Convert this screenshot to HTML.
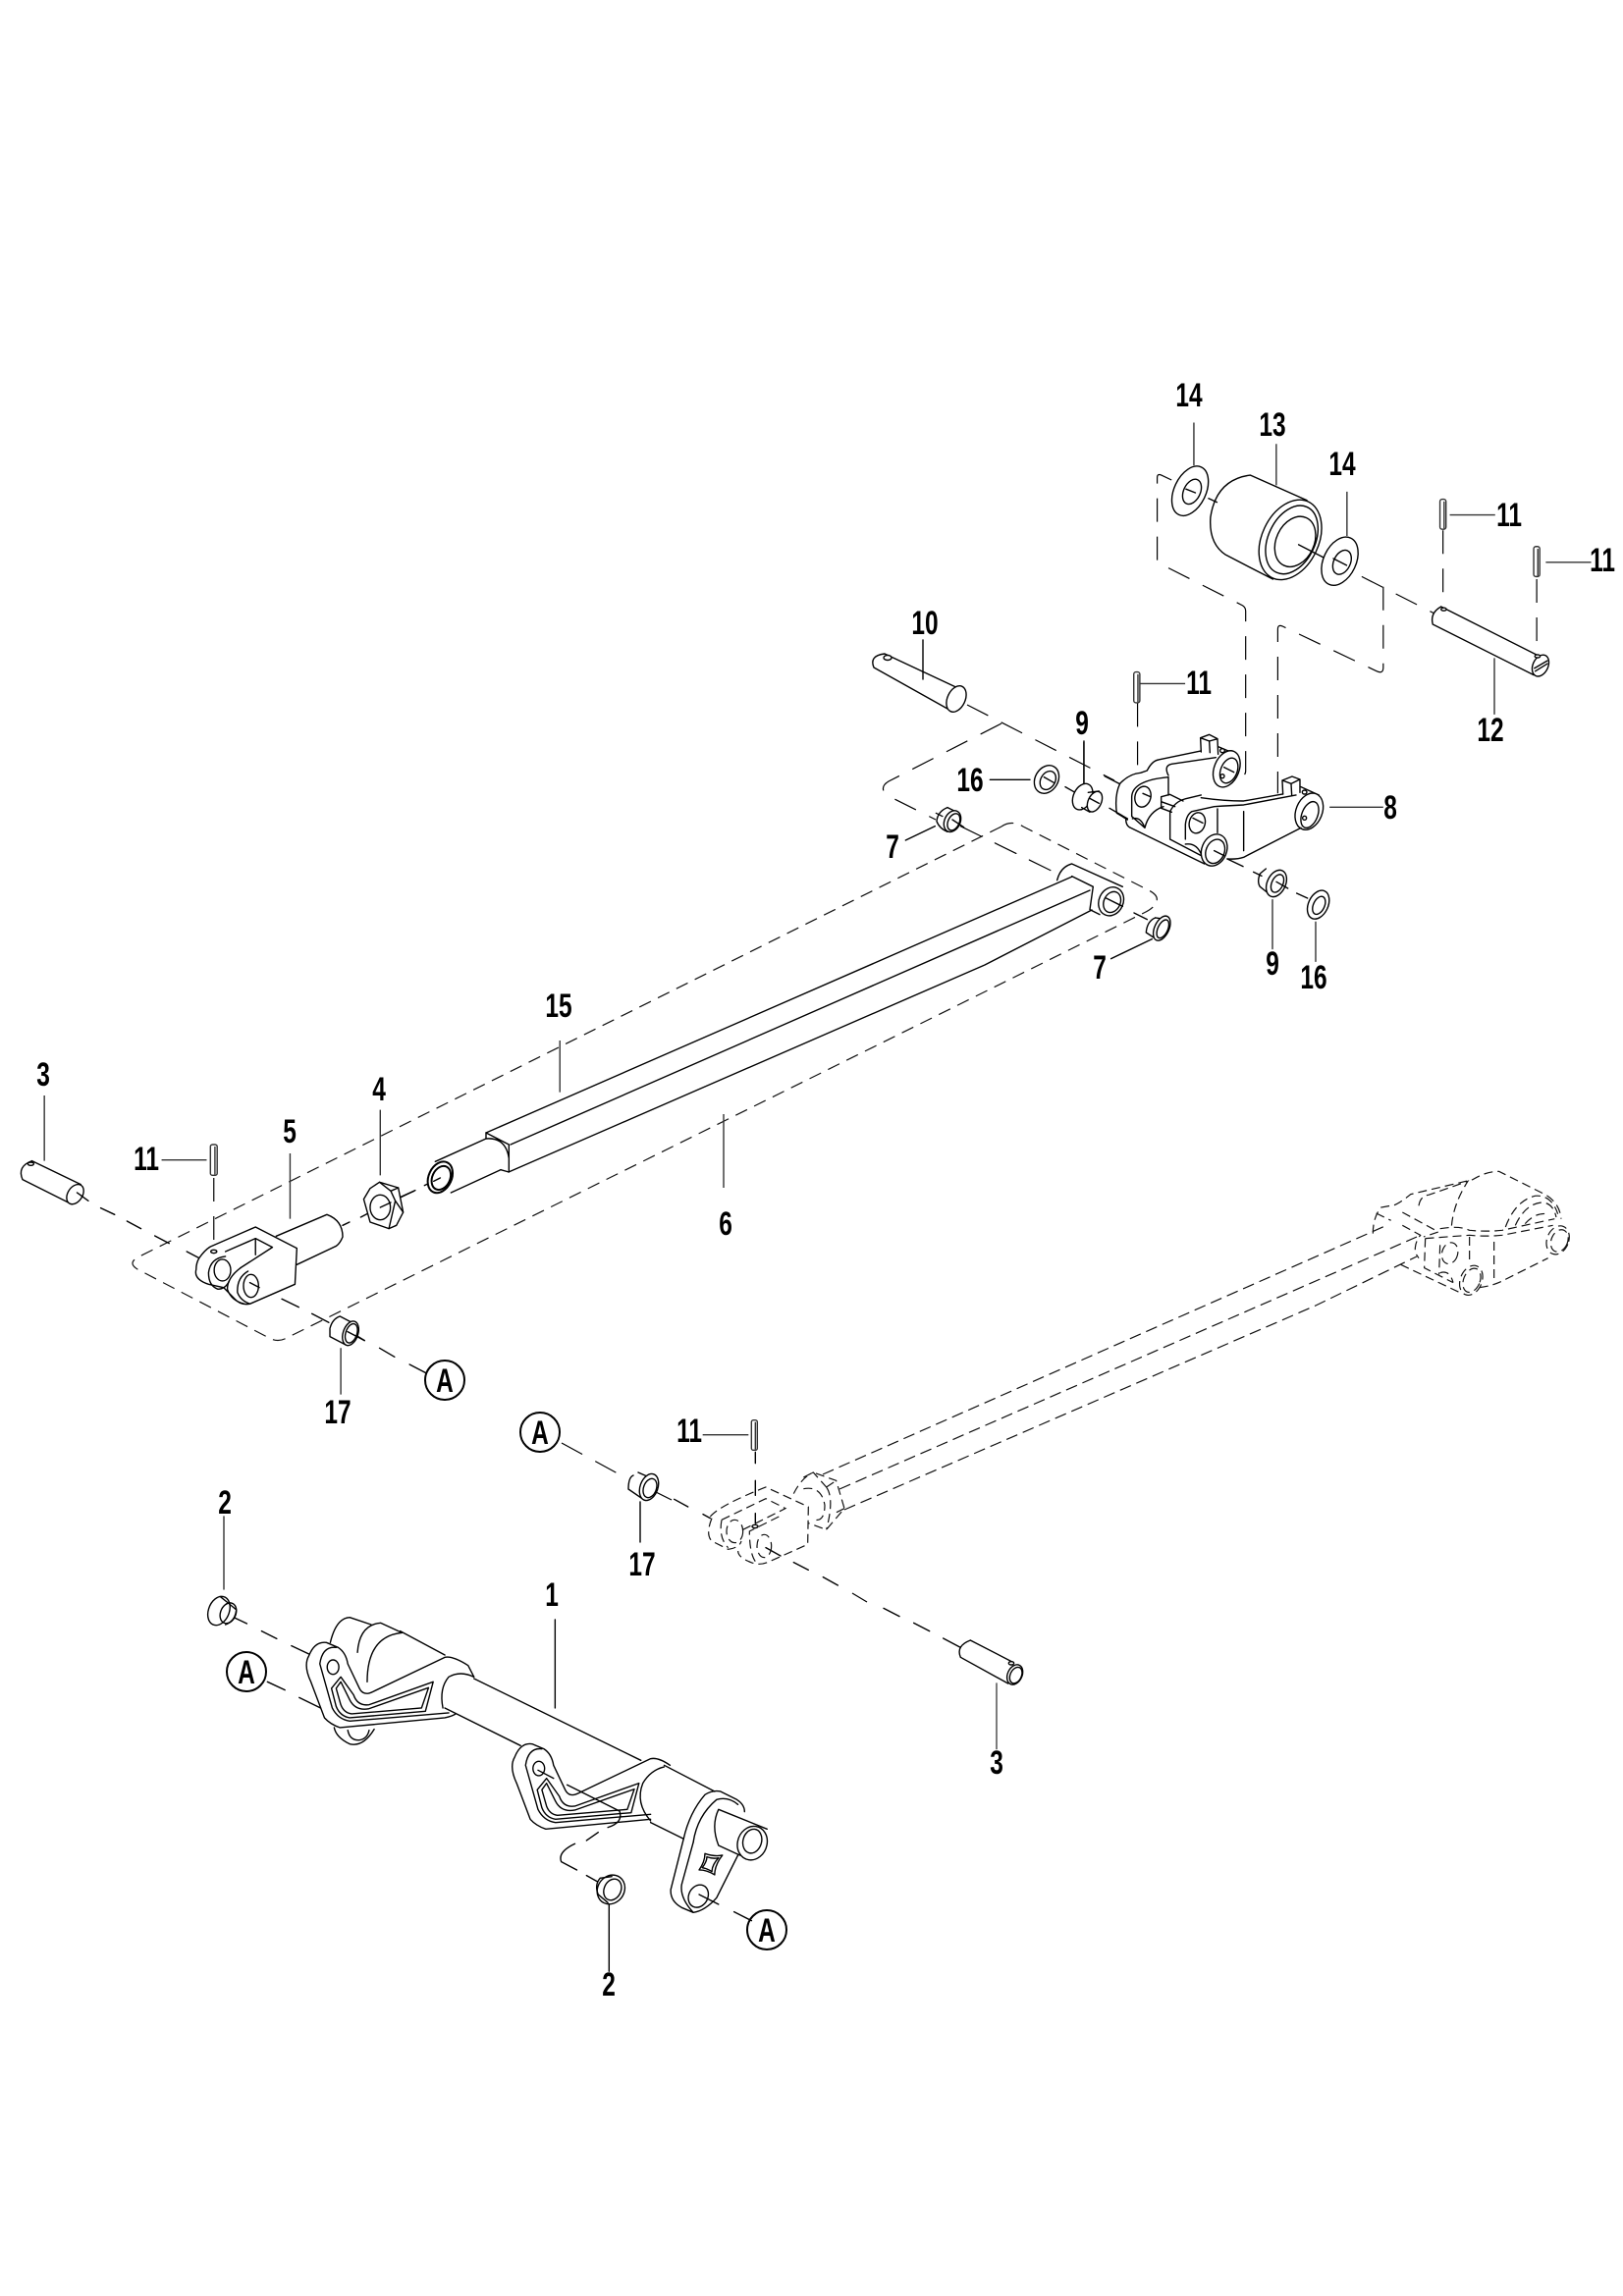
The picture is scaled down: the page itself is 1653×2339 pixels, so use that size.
<!DOCTYPE html>
<html><head><meta charset="utf-8"><style>
html,body{margin:0;padding:0;background:#fff}
svg{display:block}
svg *{vector-effect:non-scaling-stroke}
.l{fill:none;stroke:#000;stroke-width:1.4;stroke-linejoin:round;stroke-linecap:round}
.w ellipse,.f{fill:#fff}
.d{fill:none;stroke:#000;stroke-width:1.2;stroke-dasharray:24 15}
.d2{fill:none;stroke:#111;stroke-width:1.2;stroke-dasharray:9 5}
.h{fill:none;stroke:#111;stroke-width:1.2;stroke-dasharray:12 6}
.t{fill:none;stroke:#333;stroke-width:1.4}
text{font-family:"Liberation Sans",sans-serif;font-weight:bold;font-size:34px;fill:#000;text-anchor:middle}
</style></head><body>
<svg width="1653" height="2339" viewBox="0 0 1653 2339" xmlns="http://www.w3.org/2000/svg">
<rect width="1653" height="2339" fill="#fff"/>

<!-- global dashed -->
<g class="h" style="stroke-dasharray:13 8">
<path d="M1020 842Q1030 835 1042 842L1170 907Q1180 912 1178 918Q1176 925 1165 930L292 1363Q283 1368 274 1363L140 1293Q130 1287 140 1281Z"/>
</g>
<g class="d">
<path d="M985 718L1135 795"/>
<path d="M1020 737L905 796Q895 802 903 810L953 835"/>
<path d="M572 1470L640 1507"/>
<path d="M668 1520L684 1528"/>
<path d="M868 1623L883 1632"/>
</g>
<g class="h">
<path d="M838 1502L1413 1248"/>
<path d="M855 1517L1443 1260"/>
<path d="M860 1538L1340 1330L1443 1280"/>
</g>

<!-- long arm -->
<g class="l">
<path d="M495 1154L1092 893"/>
<path d="M520 1166L1110 907"/>
<path d="M518 1194L1003 983L1112 927"/>
</g>

<!-- Z1 roller + bracket dashes, pin 12 -->
<g transform="translate(1050,370) scale(.385,.3827)">
<path class="d" d="M372 311L345 298Q334 293 334 305L334 530L560 645Q568 650 568 660L568 1085Q568 1100 552 1098"/>
<path class="d" d="M875 568L1065 665"/>
<path class="d" d="M932 595L932 810Q932 828 915 820L665 700Q653 695 653 708L653 1145"/>
<path class="d" d="M1090 445L1090 645"/>
<path class="d" d="M1338 575L1338 775"/>
<path class="d" d="M282 905L282 1095"/>
<g class="l w">
<path d="M470 360L492 370M770 515L800 530"/>
<ellipse cx="421" cy="340" rx="42" ry="70" transform="rotate(25 421 340)"/>
<ellipse cx="426" cy="342" rx="22" ry="35" transform="rotate(25 426 342)"/>
<path d="M410 335L435 345"/>
<path d="M640 575L515 510Q470 480 475 410Q490 310 580 298L730 365"/>
<ellipse cx="686" cy="470" rx="75" ry="112" transform="rotate(25 686 470)"/>
<ellipse cx="690" cy="470" rx="62" ry="96" transform="rotate(25 690 470)"/>
<ellipse cx="699" cy="475" rx="50" ry="70" transform="rotate(25 699 475)"/>
<path d="M708 483L770 515"/>
<ellipse cx="817" cy="527" rx="43" ry="68" transform="rotate(25 817 527)"/>
<ellipse cx="823" cy="530" rx="22" ry="34" transform="rotate(25 823 530)"/>
<path d="M800 520L835 538"/>
<!-- pin 12 -->
<path d="M1085 648L1345 780M1063 695L1330 830M1085 648Q1055 665 1063 695"/>
<ellipse cx="1348" cy="805" rx="20" ry="30" transform="rotate(25 1348 805)"/>
<path d="M1332 812L1366 792M1334 820L1366 800"/>
<ellipse cx="1092" cy="655" rx="7" ry="4"/>
<ellipse cx="1340" cy="780" rx="7" ry="4"/>
</g>
<g class="t">
<rect x="1082" y="362" width="16" height="80" rx="6"/><path d="M1093 368V440"/>
<rect x="1330" y="488" width="16" height="80" rx="6"/><path d="M1341 494V566"/>
<rect x="272" y="822" width="16" height="82" rx="6"/><path d="M283 828V902"/>
<path d="M1108 404H1228M1362 530H1482M288 853H408M431 158V272M649 215V325M836 342V460M1226 785V935M790 1182H932M140 1008V1120"/>
</g>
</g>

<!-- Z8 bracket 8 -->
<g transform="translate(1090,730) scale(.3333)" class="l w">
<path d="M105 182L150 205M120 280L175 312"/>
<path d="M152 205Q180 175 215 172L235 165Q250 135 270 132L400 105"/>
<path d="M400 108L398 65L425 55L450 68L452 115M398 65L425 75L450 68M425 75L427 110"/>
<path d="M452 92L495 110"/>
<ellipse cx="465" cy="104" rx="7" ry="6"/>
<path d="M300 180Q285 150 310 145L445 125"/>
<ellipse cx="478" cy="160" rx="38" ry="58" transform="rotate(22 478 160)"/>
<ellipse cx="485" cy="165" rx="25" ry="40" transform="rotate(22 485 165)"/>
<ellipse cx="465" cy="182" rx="6" ry="6"/>
<path d="M152 205Q135 240 142 295L175 315"/>
<path d="M188 305L188 245Q190 195 300 185L300 240"/>
<ellipse cx="222" cy="245" rx="24" ry="32" transform="rotate(15 222 245)"/>
<path d="M190 312Q215 305 228 340Q240 290 285 275M188 305L228 340"/>
<path d="M170 312Q170 335 185 340L410 450"/>
<path d="M278 245L305 238L345 258M278 245L278 280L310 292M278 260L320 275"/>
<path d="M400 248Q470 258 530 258L650 237"/>
<path d="M305 375L305 290Q320 260 350 252L400 240"/>
<path d="M352 375L352 330Q355 300 372 290L440 275Q490 272 530 270L690 240"/>
<path d="M650 237L648 195L678 183L702 192L702 232M648 195L675 205L702 192M675 205L677 240"/>
<path d="M705 215L760 240"/>
<ellipse cx="716" cy="231" rx="7" ry="6"/>
<ellipse cx="730" cy="290" rx="40" ry="58" transform="rotate(22 730 290)"/>
<ellipse cx="732" cy="300" rx="24" ry="42" transform="rotate(22 732 300)"/>
<ellipse cx="716" cy="310" rx="6" ry="6"/>
<path d="M705 340L530 430Q510 437 480 435"/>
<path d="M450 282V355M530 290V410"/>
<ellipse cx="388" cy="325" rx="24" ry="32" transform="rotate(15 388 325)"/>
<path d="M352 390Q385 385 400 420M305 375L400 425"/>
<ellipse cx="440" cy="408" rx="38" ry="50" transform="rotate(22 440 408)"/>
<ellipse cx="443" cy="412" rx="28" ry="38" transform="rotate(22 443 412)"/>
<path d="M440 410L470 425M375 310L405 325M222 235L245 245M470 155L500 170"/>
</g>

<!-- lower bush 9 and washer 16 -->
<g transform="translate(1230,860) scale(.3333)" class="l w">
<path d="M60 45L108 68M140 85L165 97M272 150L305 165"/>
<path d="M178 75L160 90Q150 115 160 130L185 150"/>
<ellipse cx="210" cy="120" rx="28" ry="43" transform="rotate(25 210 120)"/>
<ellipse cx="213" cy="120" rx="17" ry="29" transform="rotate(25 213 120)"/>
<path d="M210 115L245 135"/>
<ellipse cx="338" cy="185" rx="30" ry="46" transform="rotate(25 338 185)"/>
<ellipse cx="340" cy="187" rx="17" ry="29" transform="rotate(25 340 187)"/>
<path d="M198 170V320M330 238V358" style="stroke:#333"/>
</g>

<!-- Z7 -->
<g transform="translate(860,720) scale(.3333)" class="l w">
<path d="M280 325L300 335M355 365L640 505" class="d"/>
<ellipse cx="618" cy="222" rx="35" ry="45" transform="rotate(30 618 222)"/>
<ellipse cx="622" cy="225" rx="22" ry="30" transform="rotate(30 622 225)"/>
<path d="M610 215L640 232M675 245L705 262"/>
<path d="M445 223H567M732 105V235M187 408L277 365M815 770L940 710"/>
<ellipse cx="728" cy="275" rx="28" ry="42" transform="rotate(25 728 275)"/>
<path d="M745 262L778 258M725 308L750 322"/>
<ellipse cx="765" cy="290" rx="20" ry="33" transform="rotate(25 765 290)"/>
<path d="M750 280L778 295"/>
<path d="M315 308Q285 320 282 350Q290 372 315 382"/>
<path d="M315 308L350 325"/>
<ellipse cx="330" cy="350" rx="24" ry="34" transform="rotate(25 330 350)"/>
<ellipse cx="334" cy="352" rx="17" ry="27" transform="rotate(25 334 352)"/>
<path d="M330 345L365 368"/>
<path d="M950 645Q925 655 922 690L945 705"/>
<path d="M950 645L985 650"/>
<ellipse cx="970" cy="677" rx="22" ry="40" transform="rotate(25 970 677)"/>
<ellipse cx="973" cy="679" rx="15" ry="30" transform="rotate(25 973 679)"/>
<path d="M885 630L925 650"/>
<path d="M650 530Q660 490 695 480L850 550"/>
<path d="M695 518L760 550L750 620L780 635"/>
<ellipse cx="815" cy="595" rx="37" ry="45" transform="rotate(25 815 595)"/>
<ellipse cx="818" cy="597" rx="25" ry="33" transform="rotate(25 818 597)"/>
<path d="M800 585L850 610"/>
</g>

<!-- Z6 tube -->
<g transform="translate(400,1080) scale(.3333)" class="l w">
<path d="M20 420L65 400M97 383L120 372"/>
<path d="M130 310L285 240M178 405L330 335"/>
<path d="M285 222L355 258V342L330 335M285 240Q345 235 355 300M285 222V240"/>
<ellipse cx="145" cy="358" rx="35" ry="50" transform="rotate(25 145 358)" style="stroke-width:2"/>
<ellipse cx="148" cy="360" rx="27" ry="38" transform="rotate(25 148 360)" style="stroke-width:2"/>
<path d="M125 370L145 360"/>
</g>

<!-- Z2 left assembly -->
<g transform="translate(0,1060) scale(.3827,.3333)">
<path class="d" d="M569 420V620"/>
<g class="l w">
<path d="M85 368L215 440M60 425L185 497M85 368Q45 385 60 425"/>
<ellipse cx="200" cy="470" rx="20" ry="32" transform="rotate(25 200 470)"/>
<ellipse cx="82" cy="377" rx="8" ry="5"/>
<path d="M205 465L235 490M268 512L305 532M338 552L375 575M412 597L450 620M497 645L530 665"/>
<path d="M665 740L710 770M750 790L795 815M830 835L875 862M925 885L970 917M1010 940L1050 967M1090 990L1135 1017"/>
<path d="M912 565L930 555M960 540L985 525M1015 510L1040 495M1065 480L1105 458"/>
<path d="M735 598L870 532Q912 550 912 600Q905 620 895 628L790 685"/>
<path class="f" d="M530 665Q545 640 560 630L680 570L790 635L785 745L665 805Q640 810 625 790L595 755L555 745Q515 730 522 700Q522 680 530 665Z"/>
<path d="M600 645L680 605L725 632L640 695"/>
<path d="M680 605V655"/>
<path d="M600 660Q560 665 555 710Q555 750 580 760Q600 760 610 735"/>
<ellipse cx="592" cy="702" rx="22" ry="33"/>
<path d="M640 695Q605 725 605 760Q615 795 650 805M660 705Q630 725 632 770Q640 795 665 805"/>
<ellipse cx="668" cy="750" rx="20" ry="35"/>
<path d="M665 740L690 755"/>
<ellipse cx="569" cy="645" rx="8" ry="5"/>
<!-- nut -->
<path class="f" d="M968 485L985 452L1010 433L1060 450L1073 525L1055 565L1035 575L985 555Z"/>
<path d="M1010 433L1040 460L1060 450M1040 460L1052 490L1073 525M1035 575L1052 490"/>
<ellipse cx="1012" cy="510" rx="27" ry="38"/>
<path d="M1012 510L1040 495"/>
<!-- bush 17 -->
<path d="M878 880Q885 850 905 843L950 870M878 905L920 930M878 880V905"/>
<ellipse cx="933" cy="895" rx="20" ry="38" transform="rotate(15 933 895)"/>
<ellipse cx="935" cy="895" rx="15" ry="30" transform="rotate(15 935 895)"/>
<path d="M925 890L970 917"/>
</g>
<g class="t">
<rect x="560" y="318" width="18" height="94" rx="6"/><path d="M572 324V410"/>
<path d="M430 365H550M118 168V368M772 345V545M1012 212V412M907 940V1082"/>
<path d="M1490 0V158"/>
</g>
</g>

<!-- Z4 dashed bracket -->
<g transform="translate(1300,1160) scale(.3333)">
<g class="d2">
<path d="M295 290Q295 240 320 210L360 203Q380 195 410 170L600 125Q640 100 680 100L810 165Q865 190 870 245"/>
<path d="M435 205Q440 175 465 172L585 130Q540 200 535 270"/>
<path d="M305 228L350 250M385 225L495 285L450 300"/>
<path d="M385 265L440 295Q420 320 425 350L435 365"/>
<path d="M455 305L452 395L540 440M500 325L497 415M500 410Q530 400 540 440"/>
<ellipse cx="530" cy="350" rx="24" ry="33" transform="rotate(15 530 350)"/>
<ellipse cx="595" cy="433" rx="33" ry="47" transform="rotate(22 595 433)"/>
<ellipse cx="597" cy="433" rx="25" ry="38" transform="rotate(22 597 433)"/>
<path d="M455 305Q520 300 590 295Q640 300 690 295L845 265"/>
<path d="M500 275Q560 265 590 280Q640 285 690 280L850 245"/>
<path d="M590 300V380M665 315V430"/>
<path d="M620 455Q660 450 690 435L830 365"/>
<ellipse cx="860" cy="310" rx="33" ry="45" transform="rotate(22 860 310)"/>
<ellipse cx="865" cy="312" rx="25" ry="35" transform="rotate(22 865 312)"/>
<path d="M700 270Q730 190 790 175Q840 170 860 230M730 265Q760 200 810 195Q845 195 855 240M760 260Q790 225 830 230"/>
<path d="M380 385L560 470"/>
</g>
</g>

<!-- Z5 dashed clevis -->
<g transform="translate(680,1420) scale(.3333)">
<g class="d2">
<path d="M385 305Q410 255 445 240L485 285M415 255L445 240L515 265L540 350L485 415L430 395M485 285L515 265M485 285Q510 320 485 415M540 350L510 365"/>
<path d="M415 290Q470 280 480 340Q480 390 450 385"/>
<path d="M130 375Q160 340 300 285L430 345L428 460L305 515Q280 525 255 515Q215 500 215 480"/>
<path d="M135 380Q115 430 135 450L185 475Q220 470 225 450"/>
<path d="M165 385L300 320L360 350L230 415M165 385Q155 440 185 470"/>
<ellipse cx="205" cy="420" rx="25" ry="35"/>
<path d="M340 375L250 420Q250 490 270 515"/>
<ellipse cx="295" cy="465" rx="22" ry="35"/>
</g>
<g class="l w">
<path d="M20 322L62 345M108 368L130 380M300 470L345 495M385 515L430 538M475 560L520 585"/>
<path d="M268 178V212M268 265V310M268 365V395"/>
<ellipse cx="267" cy="405" rx="9" ry="5"/>
</g>
<g class="t">
<rect x="256" y="80" width="18" height="92" rx="6"/><path d="M268 86V170"/>
<path d="M107 125H247"/>
</g>
</g>

<!-- Z9 pin 3 lower -->
<g transform="translate(900,1600) scale(.3333)" class="l w">
<path d="M0 115L48 140M92 160L140 185M182 207L235 235"/>
<path d="M265 213L395 280M235 265L380 345M265 213Q220 230 235 265"/>
<ellipse cx="401" cy="318" rx="22" ry="32" transform="rotate(25 401 318)"/>
<ellipse cx="404" cy="320" rx="17" ry="26" transform="rotate(25 404 320)"/>
<ellipse cx="390" cy="283" rx="8" ry="5"/>
<path d="M345 345V545" style="stroke:#444"/>
</g>

<!-- pin 10 + bush 17 upper -->
<g class="l w">
<path d="M901 666L980 703M890 680L965 722M901 666Q885 668 890 680"/>
<ellipse cx="974" cy="712" rx="9" ry="14" transform="rotate(25 974 712)"/>
<ellipse cx="904" cy="670" rx="4" ry="2.5"/>
<path d="M940 652V692"/>
<path d="M645 1503Q640 1505 640 1517L656 1528M650 1500L668 1508"/>
<ellipse cx="661" cy="1515" rx="9" ry="14" transform="rotate(20 661 1515)"/>
<ellipse cx="662" cy="1516" rx="6.5" ry="10" transform="rotate(20 662 1516)"/>
<path d="M652 1530V1571"/>
<path d="M228 1545V1619" style="stroke:#333"/>
</g>

<!-- Z3 main shaft -->
<g transform="translate(200,1580) scale(.3954,.3333)" class="l">
<ellipse cx="58" cy="183" rx="27" ry="45" transform="rotate(15 58 183)"/>
<path d="M62 140L85 162L103 180Q100 215 75 225"/>
<ellipse cx="82" cy="190" rx="20" ry="32" transform="rotate(15 82 190)"/>
<path d="M100 205L130 222M168 245L207 268M245 290L290 315M183 400L228 425M265 448L320 480"/>
<!-- tube -->
<path d="M525 245L640 318M715 390L1145 640M640 480L835 595M1170 830L1255 880M1205 655L1335 735"/>
<path d="M924 210V480"/>
<!-- left yoke -->
<path d="M345 280Q360 205 395 203L450 225M415 310Q420 225 475 220L530 250Q440 260 440 400"/>
<path d="M355 540Q360 570 395 590Q430 600 458 545M390 548Q395 580 420 578Q440 575 445 548"/>
<g>
<path d="M290 320Q275 350 295 400L330 510Q345 530 370 540L640 510Q660 505 668 498M290 320Q305 275 335 280L365 295Q385 310 390 345L420 420Q430 445 455 430L640 325Q660 320 700 350L715 385"/>
<path d="M318 345Q325 290 360 295M318 345L350 480Q365 515 395 520L650 495"/>
<path d="M348 420L372 385L405 440Q415 475 445 470L610 400L590 490L395 510Q370 505 360 475Z"/>
<path d="M360 420L372 400L395 455Q410 490 445 482L598 418L580 480L400 498Q380 495 372 470Z"/>
<ellipse cx="352" cy="355" rx="15" ry="22"/>
</g>
<path d="M715 385Q680 365 650 385Q625 420 635 480"/>
<!-- second lug -->
<g transform="translate(530,310)">
<path d="M290 320Q275 350 295 400L330 510Q345 530 370 540L640 510M290 320Q305 275 335 280L365 295Q385 310 390 345L420 420Q430 445 455 430L640 325Q660 320 690 345"/>
<path d="M318 345Q325 290 360 295M318 345L350 480Q365 515 395 520L640 495"/>
<path d="M348 420L372 385L405 440Q415 475 445 470L610 400L590 490L395 510Q370 505 360 475Z"/>
<path d="M360 420L372 400L395 455Q410 490 445 482L598 418L580 480L400 498Q380 495 372 470Z"/>
<ellipse cx="352" cy="355" rx="15" ry="22"/>
</g>
<path d="M1205 660Q1170 670 1150 710Q1130 770 1170 825"/>
<path d="M880 670L920 695M955 715L1090 795Q1100 830 1060 845M1035 860L1005 885M975 895Q930 920 940 950L980 975M1005 992L1032 1010"/>
<!-- lever -->
<path d="M1255 880Q1270 800 1310 745Q1330 730 1350 735L1392 760Q1412 775 1412 797"/>
<path d="M1280 890Q1290 810 1340 760Q1370 750 1395 775"/>
<path d="M1255 880L1222 1035Q1220 1070 1250 1090L1280 1105Q1310 1100 1340 1060L1395 930"/>
<path d="M1280 890L1250 1020Q1245 1060 1280 1105"/>
<ellipse cx="1293" cy="1055" rx="25" ry="35" transform="rotate(15 1293 1055)"/>
<path d="M1310 925Q1335 935 1355 930Q1335 960 1335 990Q1315 975 1295 975Q1310 950 1310 925Z"/>
<path d="M1315 935Q1330 942 1345 938Q1328 960 1328 980Q1315 970 1303 968Q1315 950 1315 935Z"/>
<path d="M1345 790L1470 850M1345 790Q1325 840 1345 900L1400 930"/>
<ellipse cx="1432" cy="893" rx="38" ry="52" transform="rotate(10 1432 893)"/>
<ellipse cx="1432" cy="887" rx="24" ry="37" transform="rotate(10 1432 887)"/>
<path d="M1295 1050L1345 1080M1385 1103L1430 1130"/>
<!-- bush 2 lower -->
<path d="M1040 1000Q1025 1020 1035 1050L1060 1075M1040 1000L1070 995"/>
<ellipse cx="1068" cy="1035" rx="35" ry="45" transform="rotate(15 1068 1035)"/>
<ellipse cx="1072" cy="1035" rx="22" ry="33" transform="rotate(15 1072 1035)"/>
<path d="M1063 1080V1285"/>
</g>

<!-- circles A -->
<g fill="none" stroke="#000" stroke-width="2">
<circle cx="453" cy="1406" r="20"/>
<circle cx="550" cy="1459" r="20"/>
<circle cx="251" cy="1703" r="20"/>
<circle cx="781" cy="1966" r="20"/>
</g>
<g>
<text transform="translate(453,1418) scale(.72,1)">A</text>
<text transform="translate(550,1471) scale(.72,1)">A</text>
<text transform="translate(251,1715) scale(.72,1)">A</text>
<text transform="translate(781,1978) scale(.72,1)">A</text>
</g>

<!-- labels -->
<g>
<text transform="translate(1211,414) scale(.72,1)">14</text>
<text transform="translate(1296,444) scale(.72,1)">13</text>
<text transform="translate(1367,484) scale(.72,1)">14</text>
<text transform="translate(1537,536) scale(.72,1)">11</text>
<text transform="translate(1632,582) scale(.72,1)">11</text>
<text transform="translate(942,646) scale(.72,1)">10</text>
<text transform="translate(1221,707) scale(.72,1)">11</text>
<text transform="translate(1102,748) scale(.72,1)">9</text>
<text transform="translate(988,806) scale(.72,1)">16</text>
<text transform="translate(1416,834) scale(.72,1)">8</text>
<text transform="translate(1518,755) scale(.72,1)">12</text>
<text transform="translate(909,874) scale(.72,1)">7</text>
<text transform="translate(1120,997) scale(.72,1)">7</text>
<text transform="translate(1296,993) scale(.72,1)">9</text>
<text transform="translate(1338,1007) scale(.72,1)">16</text>
<text transform="translate(569,1036) scale(.72,1)">15</text>
<text transform="translate(44,1106) scale(.72,1)">3</text>
<text transform="translate(386,1121) scale(.72,1)">4</text>
<text transform="translate(295,1164) scale(.72,1)">5</text>
<text transform="translate(149,1192) scale(.72,1)">11</text>
<text transform="translate(739,1258) scale(.72,1)">6</text>
<text transform="translate(344,1450) scale(.72,1)">17</text>
<text transform="translate(702,1469) scale(.72,1)">11</text>
<text transform="translate(654,1605) scale(.72,1)">17</text>
<text transform="translate(229,1542) scale(.72,1)">2</text>
<text transform="translate(562,1636) scale(.72,1)">1</text>
<text transform="translate(1015,1807) scale(.72,1)">3</text>
<text transform="translate(620,2033) scale(.72,1)">2</text>
</g>
<g class="t">
<path d="M737 1135V1210"/>
</g>
</svg>
</body></html>
